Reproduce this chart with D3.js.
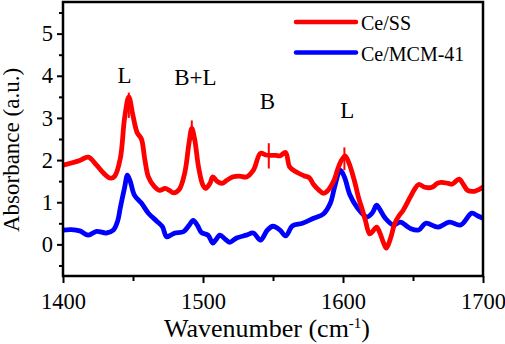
<!DOCTYPE html>
<html>
<head>
<meta charset="utf-8">
<script src="https://cdn.jsdelivr.net/npm/d3@7"></script>
<style>
  body { margin: 0; background: #fff; }
  svg text { font-family: "Liberation Serif", "Times New Roman", Times, serif; fill: #000; }
</style>
</head>
<body>
<div id="chart" style="width:505px;height:344px"></div>
<script>
// Ce/SS spectrum
const ssWave = [1400, 1406, 1412, 1418, 1424, 1429, 1434, 1437, 1441, 1444, 1447, 1450, 1453, 1456, 1458.5, 1461, 1465, 1469,
    1473, 1476, 1479, 1483, 1487, 1490, 1492, 1494, 1497, 1500, 1502, 1505, 1507, 1510, 1513.5, 1517, 1521, 1526, 1531, 1536,
    1541, 1545, 1548, 1552, 1555, 1559, 1562, 1567, 1572, 1576, 1579, 1583, 1586, 1589, 1591, 1594, 1596, 1599, 1601.5, 1604,
    1606, 1609, 1611, 1614, 1616, 1619, 1621, 1624, 1626, 1629, 1631, 1634, 1637, 1640, 1643, 1648, 1651, 1654, 1659, 1664,
    1667, 1670, 1675, 1678, 1683, 1686, 1689, 1694, 1697, 1700];
const ssAbs = [1.88, 1.93, 1.99, 2.07, 1.88, 1.69, 1.57, 1.62, 2.05, 3.0, 3.5, 3.05, 2.65, 2.5, 2.0, 1.6, 1.38, 1.28,
    1.33, 1.28, 1.22, 1.3, 1.7, 2.4, 2.75, 2.5, 1.8, 1.4, 1.33, 1.45, 1.6, 1.5, 1.45, 1.52, 1.6, 1.62, 1.6, 1.76,
    2.16, 2.12, 2.11, 2.11, 2.1, 2.18, 1.83, 1.71, 1.63, 1.58, 1.42, 1.28, 1.21, 1.27, 1.36, 1.55, 1.76, 2.0, 2.1, 1.95,
    1.76, 1.4, 1.12, 0.8, 0.57, 0.25, 0.3, 0.41, 0.3, 0.03, -0.09, 0.15, 0.5, 0.68, 0.81, 1.12, 1.3, 1.42, 1.35, 1.36,
    1.44, 1.47, 1.45, 1.43, 1.55, 1.42, 1.28, 1.26, 1.3, 1.36];

// Ce/MCM-41 spectrum
const mcmWave = [1400, 1406, 1412, 1418, 1424, 1431, 1436, 1439, 1441, 1444, 1446, 1448, 1451, 1456, 1461, 1467, 1471, 1474, 1477, 1480,
    1486, 1490, 1493, 1496, 1499, 1503.6, 1507, 1509, 1512, 1516, 1519, 1524, 1531, 1536, 1541, 1546, 1550, 1555, 1559, 1564,
    1571, 1579, 1586, 1591, 1594, 1598, 1601, 1605, 1610, 1617, 1621, 1624, 1626, 1630, 1636, 1641, 1648, 1654, 1659, 1668,
    1676, 1684, 1692, 1696, 1700];
const mcmAbs = [0.34, 0.35, 0.32, 0.22, 0.31, 0.27, 0.34, 0.55, 0.88, 1.35, 1.64, 1.5, 1.17, 0.98, 0.74, 0.55, 0.42, 0.18, 0.22, 0.27,
    0.3, 0.45, 0.57, 0.45, 0.28, 0.22, 0.03, 0.1, 0.22, 0.12, 0.05, 0.15, 0.22, 0.27, 0.1, 0.34, 0.43, 0.34, 0.2, 0.44,
    0.5, 0.62, 0.72, 0.98, 1.36, 1.76, 1.6, 1.17, 0.88, 0.65, 0.75, 0.93, 0.85, 0.63, 0.46, 0.53, 0.38, 0.34, 0.5, 0.41,
    0.53, 0.46, 0.74, 0.68, 0.62];

const seriesNames = ["Ce/SS", "Ce/MCM-41"];
const seriesColors = ["#ff0000", "#0000ff"];

// peak labels and their marker segments
const peakLabels = ["L", "B+L", "B", "L"];
const peakLabelX = [1444, 1494.6, 1546, 1603];
const peakLabelY = [3.82, 3.77, 3.2, 3.0];
const peakMarkX = [1447, 1492, 1547, 1601];
const peakMarkLow = [3.0, 2.47, 1.8, 1.76];
const peakMarkHigh = [3.6, 2.94, 2.4, 2.3];

const xMajor = [1400, 1500, 1600, 1700];
const xMinor = [1450, 1550, 1650];
const yMajor = [0, 1, 2, 3, 4, 5];
const yMinor = [-0.5, 0.5, 1.5, 2.5, 3.5, 4.5, 5.5];

const serif = "Liberation Serif, Times New Roman, Times, serif";

const margin = { top: 2, right: 22, bottom: 68, left: 63 };
const width = 505 - margin.left - margin.right;
const height = 344 - margin.top - margin.bottom;

const svg = d3.select("#chart")
    .append("svg")
    .attr("width", 505)
    .attr("height", 344)
    .append("g")
    .attr("transform", "translate(" + margin.left + "," + margin.top + ")");

const x = d3.scaleLinear().domain([1400, 1700]).range([0, width]);
const y = d3.scaleLinear().domain([-0.75, 5.75]).range([height, 0]);

svg.append("clipPath").attr("id", "clip")
    .append("rect").attr("width", width).attr("height", height);

const line = d3.line()
    .x(d => x(d[0]))
    .y(d => y(d[1]))
    .curve(d3.curveCatmullRom.alpha(0.5));

const series = [
    d3.zip(ssWave, ssAbs),
    d3.zip(mcmWave, mcmAbs)
];

// draw blue first so red sits on top like the original
[1, 0].forEach(i => {
    svg.append("path")
        .attr("clip-path", "url(#clip)")
        .attr("d", line(series[i]))
        .attr("fill", "none")
        .attr("stroke", seriesColors[i])
        .attr("stroke-width", 4.8)
        .attr("stroke-linejoin", "round");
});

// peak markers
svg.selectAll(".mark")
    .data(peakMarkX)
    .enter().append("line")
    .attr("class", "mark")
    .attr("x1", d => x(d)).attr("x2", d => x(d))
    .attr("y1", (d, i) => y(peakMarkLow[i]))
    .attr("y2", (d, i) => y(peakMarkHigh[i]))
    .attr("stroke", "#ff0000")
    .attr("stroke-width", 2);

svg.selectAll(".peak")
    .data(peakLabels)
    .enter().append("text")
    .attr("class", "peak")
    .attr("x", (d, i) => x(peakLabelX[i]))
    .attr("y", (d, i) => y(peakLabelY[i]))
    .attr("text-anchor", "middle")
    .style("font-family", serif)
    .style("font-size", "23px")
    .text(d => d);

// axes
svg.append("g")
    .attr("transform", "translate(0," + height + ")")
    .call(d3.axisBottom(x).tickValues(xMajor).tickFormat(d3.format("d")).tickSize(7).tickPadding(10));
svg.append("g")
    .attr("transform", "translate(0," + height + ")")
    .call(d3.axisBottom(x).tickValues(xMinor).tickFormat("").tickSize(5));

svg.append("g")
    .call(d3.axisLeft(y).tickValues(yMajor).tickFormat(d3.format("d")).tickSize(6).tickPadding(4));
svg.append("g")
    .call(d3.axisLeft(y).tickValues(yMinor).tickFormat("").tickSize(4));

svg.selectAll(".domain").remove();
svg.selectAll(".tick line").attr("stroke-width", 2);
svg.selectAll(".tick text")
    .style("font-family", serif)
    .style("font-size", "22.5px");

// frame
svg.append("rect")
    .attr("width", width)
    .attr("height", height)
    .attr("fill", "none")
    .attr("stroke", "#000")
    .attr("stroke-width", 2.5);

// axis titles
const xt = svg.append("text")
    .attr("x", width / 2 - 6)
    .attr("y", height + 61)
    .attr("text-anchor", "middle")
    .style("font-family", serif)
    .style("font-size", "26px");
xt.append("tspan").text("Wavenumber (cm");
xt.append("tspan").attr("dy", -9).style("font-size", "15px").text("-1");
xt.append("tspan").attr("dy", 9).text(")");

svg.append("text")
    .attr("transform", "rotate(-90)")
    .attr("x", -(150 - margin.top))
    .attr("y", -margin.left + 19)
    .attr("text-anchor", "middle")
    .style("font-family", serif)
    .style("font-size", "23px")
    .text("Absorbance (a.u.)");

// legend
const legend = svg.append("g")
    .attr("transform", "translate(" + (296 - margin.left) + "," + (22 - margin.top) + ")");

legend.selectAll("line")
    .data(seriesNames)
    .enter().append("line")
    .attr("x1", 0).attr("x2", 60)
    .attr("y1", (d, i) => i * 30.5).attr("y2", (d, i) => i * 30.5)
    .attr("stroke", (d, i) => seriesColors[i])
    .attr("stroke-width", 4.5)
    .attr("stroke-linecap", "round");

legend.selectAll("text")
    .data(seriesNames)
    .enter().append("text")
    .attr("x", 65)
    .attr("y", (d, i) => i * 30.5 + 8)
    .style("font-family", serif)
    .style("font-size", "20px")
    .text(d => d);
</script>
</body>
</html>
